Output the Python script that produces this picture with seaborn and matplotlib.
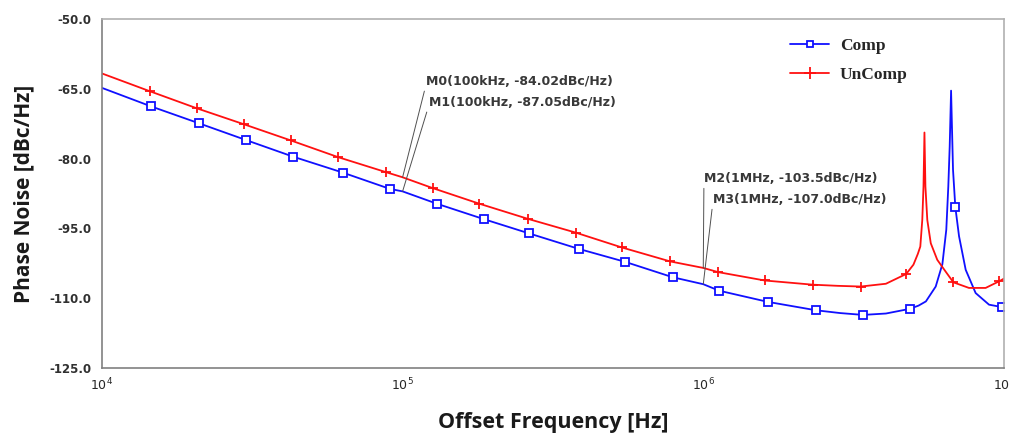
import numpy as np
import pandas as pd
import matplotlib
matplotlib.use('Agg')
import matplotlib.pyplot as plt
from matplotlib.ticker import MultipleLocator, FixedLocator, LogLocator, NullFormatter
from matplotlib.lines import Line2D
import seaborn as sns

# Comp (blue) curve
comp_freq = [1.00e4, 1.46e4, 2.10e4, 3.01e4, 4.33e4, 6.32e4, 9.06e4, 1.00e5,
             1.30e5, 1.86e5, 2.64e5, 3.85e5, 5.50e5, 7.91e5, 1.00e6, 1.13e6,
             1.64e6, 2.37e6, 2.85e6, 3.40e6, 4.05e6, 4.86e6, 5.20e6, 5.50e6,
             5.93e6, 6.24e6, 6.43e6, 6.53e6, 6.60e6, 6.67e6, 6.77e6, 6.89e6,
             7.09e6, 7.46e6, 8.05e6, 8.92e6, 9.82e6, 1.00e7]
comp_db = [-64.8, -68.8, -72.4, -76.0, -79.6, -83.0, -86.5, -87.05,
           -89.7, -93.0, -96.1, -99.4, -102.2, -105.5, -107.0, -108.4,
           -110.8, -112.6, -113.2, -113.6, -113.3, -112.3, -111.6, -110.7,
           -107.5, -102.7, -95.3, -86.0, -77.4, -65.4, -82.4, -90.4,
           -96.7, -103.9, -108.9, -111.4, -111.9, -111.9]
comp_marks = [1.46e4, 2.10e4, 3.01e4, 4.33e4, 6.32e4, 9.06e4, 1.30e5, 1.86e5,
              2.64e5, 3.85e5, 5.50e5, 7.91e5, 1.13e6, 1.64e6, 2.37e6, 3.40e6,
              4.86e6, 6.89e6, 9.82e6]

# UnComp (red) curve
uncomp_freq = [1.00e4, 1.44e4, 2.07e4, 2.96e4, 4.25e4, 6.11e4, 8.79e4, 1.00e5,
               1.26e5, 1.80e5, 2.61e5, 3.76e5, 5.36e5, 7.76e5, 1.00e6, 1.12e6,
               1.60e6, 2.31e6, 2.80e6, 3.34e6, 4.05e6, 4.73e6, 5.00e6, 5.17e6,
               5.27e6, 5.35e6, 5.40e6, 5.44e6, 5.48e6, 5.56e6, 5.71e6, 6.00e6,
               6.40e6, 6.79e6, 7.65e6, 8.69e6, 9.62e6, 1.00e7]
uncomp_db = [-61.7, -65.5, -69.2, -72.6, -76.1, -79.7, -82.9, -84.02,
             -86.35, -89.7, -92.95, -95.9, -99.1, -102.1, -103.5, -104.4,
             -106.2, -107.1, -107.35, -107.5, -106.9, -104.8, -102.8, -100.5,
             -98.9, -93.2, -86.0, -74.4, -86.0, -93.2, -98.2, -101.75,
             -104.3, -106.6, -107.8, -107.8, -106.4, -105.8]
uncomp_marks = [1.44e4, 2.07e4, 2.96e4, 4.25e4, 6.11e4, 8.79e4, 1.26e5, 1.80e5,
                2.61e5, 3.76e5, 5.36e5, 7.76e5, 1.12e6, 1.60e6, 2.31e6, 3.34e6,
                4.73e6, 6.79e6, 9.62e6]

# marker annotations: (label, freq, value, text freq, text value)
notes = [
    ('M0(100kHz, -84.02dBc/Hz)', 1.0e5, -84.02, 1.195e5, -63.4),
    ('M1(100kHz, -87.05dBc/Hz)', 1.0e5, -87.05, 1.22e5, -67.9),
    ('M2(1MHz, -103.5dBc/Hz)', 1.0e6, -103.5, 1.005e6, -84.3),
    ('M3(1MHz, -107.0dBc/Hz)', 1.0e6, -107.0, 1.075e6, -88.8),
]

yticks = [-125, -110, -95, -80, -65, -50]

sns.set_style('white')
fig = plt.figure(figsize=(10.09, 4.37), dpi=100)
ax = fig.add_axes([0.101, 0.158, 0.894, 0.7985])

blue = '#1010ff'
red = '#ff1010'

sns.lineplot(x=comp_freq, y=comp_db, ax=ax, color=blue, lw=1.3, estimator=None,
             sort=False, marker='s', markersize=6, markerfacecolor='white',
             markeredgecolor=blue, markeredgewidth=1.3,
             markevery=[comp_freq.index(f) for f in comp_marks])
sns.lineplot(x=uncomp_freq, y=uncomp_db, ax=ax, color=red, lw=1.3, estimator=None,
             sort=False, marker='+', markersize=7.5, markeredgecolor=red,
             markeredgewidth=1.3,
             markevery=[uncomp_freq.index(f) for f in uncomp_marks])

for label, fx, fy, tx, ty in notes:
    ax.annotate(label, xy=(fx, fy), xytext=(tx, ty), fontsize=9,
                fontweight='bold', color='#383838', ha='left', va='center',
                family='DejaVu Sans',
                arrowprops=dict(arrowstyle='-', color='#505050', lw=0.7,
                                shrinkA=0, shrinkB=0, relpos=(0, 0.2)))

ax.set_xscale('log')
ax.set_xlim(1e4, 1e7)
ax.set_ylim(-125, -50)
ax.yaxis.set_major_locator(FixedLocator(yticks))
ax.set_yticklabels(['%.1f' % v for v in yticks])
ax.yaxis.set_minor_locator(MultipleLocator(3))
ax.xaxis.set_major_locator(LogLocator(base=10))
ax.xaxis.set_minor_locator(LogLocator(base=10, subs=np.arange(2, 10)))
ax.xaxis.set_minor_formatter(NullFormatter())

ax.tick_params(axis='both', which='both', direction='out', color='#707070')
ax.tick_params(axis='y', which='major', length=4, labelsize=8.5)
ax.tick_params(axis='y', which='minor', length=2.5)
ax.tick_params(axis='x', which='major', length=4, labelsize=9, pad=2)
ax.tick_params(axis='x', which='minor', length=2.5)
for t in ax.get_yticklabels():
    t.set_fontweight('bold')
    t.set_color('#303030')
for side in ['top', 'right']:
    ax.spines[side].set_color('#b0b0b0')
for side in ['left', 'bottom']:
    ax.spines[side].set_color('#808080')
for s in ax.spines.values():
    s.set_linewidth(1.2)

ax.set_ylabel('Phase Noise [dBc/Hz]', fontsize=15, fontweight='bold',
              family='Open Sans', color='#1a1a1a', labelpad=11)
ax.set_xlabel('Offset Frequency [Hz]', fontsize=15.5, fontweight='bold',
              family='Open Sans', color='#1a1a1a', labelpad=14)

handles = [
    Line2D([], [], color=blue, lw=1.3, marker='s', markersize=5,
           markerfacecolor='white', markeredgecolor=blue, markeredgewidth=1.3),
    Line2D([], [], color=red, lw=1.3, marker='+', markersize=8,
           markeredgewidth=1.3),
]
ax.legend(handles, ['Comp', 'UnComp'], loc='upper left',
          bbox_to_anchor=(0.745, 0.99), frameon=False, handlelength=2.3,
          handletextpad=0.6, labelspacing=0.7,
          prop={'family': 'Liberation Serif', 'weight': 'bold', 'size': 12.5})

fig.savefig('out.png', dpi=100)
